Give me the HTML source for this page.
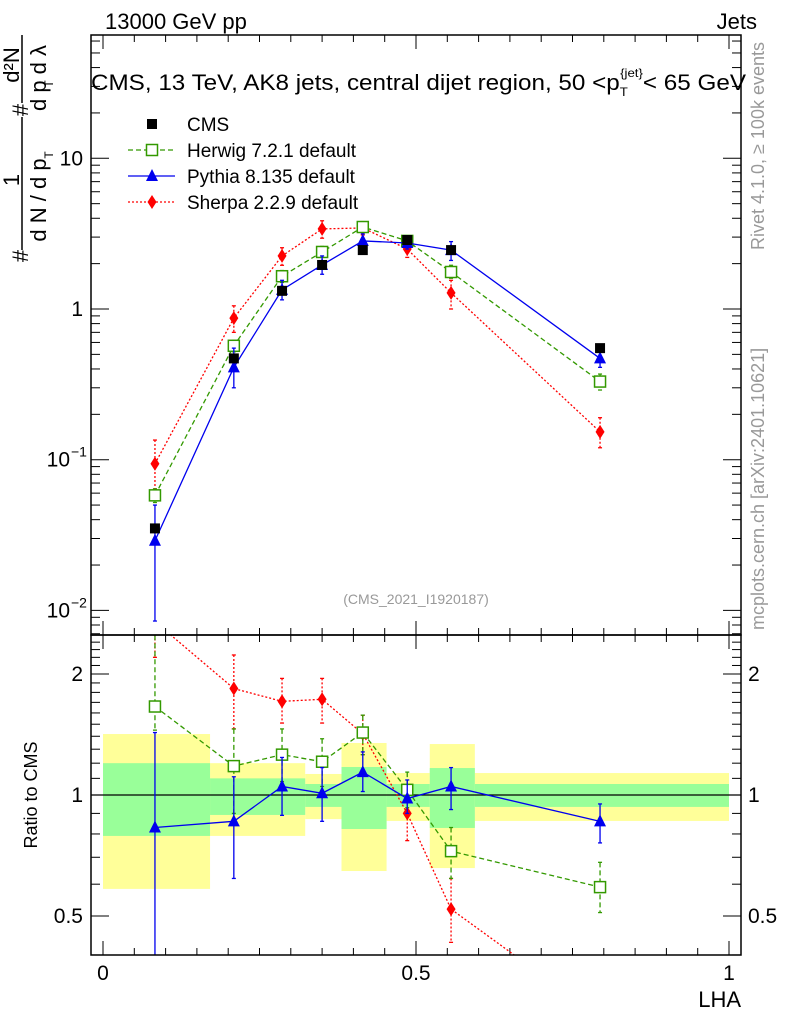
<!DOCTYPE html>
<html><head><meta charset="utf-8">
<style>
html,body{margin:0;padding:0;background:#fff;}
svg{display:block;font-family:"Liberation Sans",sans-serif;}
</style></head>
<body>
<svg id="chart" width="786" height="1024" viewBox="0 0 786 1024" xmlns="http://www.w3.org/2000/svg">
<defs>
<clipPath id="clipMain"><rect x="91" y="35" width="650" height="600"/></clipPath>
<clipPath id="clipRatio"><rect x="91" y="635" width="650" height="320"/></clipPath>
</defs>
<text x="105" y="29" font-size="22">13000 GeV pp</text>
<text x="757" y="29" font-size="22" text-anchor="end">Jets</text>
<g font-size="22">
<line x1="22" y1="35" x2="22" y2="103" stroke="#000" stroke-width="1.5"/>
<line x1="22" y1="117" x2="22" y2="250" stroke="#000" stroke-width="1.5"/>
<text transform="translate(19,65) rotate(-90)" text-anchor="middle">d²N</text>
<text transform="translate(46,78) rotate(-90)" text-anchor="middle">d p  d λ</text>
<text transform="translate(53,84) rotate(-90)" font-size="12" text-anchor="middle">T</text>
<text transform="translate(28,110) rotate(-90)" text-anchor="middle">#</text>
<text transform="translate(19,180) rotate(-90)" text-anchor="middle">1</text>
<text transform="translate(46,200) rotate(-90)" text-anchor="middle">d N / d p </text>
<text transform="translate(53,155) rotate(-90)" font-size="12" text-anchor="middle">T</text>
<text transform="translate(28,256) rotate(-90)" text-anchor="middle">#</text>
</g>
<text transform="translate(37,795) rotate(-90)" font-size="18" text-anchor="middle">Ratio to CMS</text>
<text x="741" y="1007" font-size="22" text-anchor="end">LHA</text>
<text transform="translate(764,250) rotate(-90)" font-size="18" fill="#999">Rivet 4.1.0, ≥ 100k events</text>
<text transform="translate(764,630) rotate(-90)" font-size="18" fill="#999">mcplots.cern.ch [arXiv:2401.10621]</text>
<text x="416" y="604" font-size="14" fill="#999" text-anchor="middle">(CMS_2021_I1920187)</text>
<g id="ticks"></g>
<g id="bands" clip-path="url(#clipRatio)"></g>
<line x1="91" x2="741" y1="795" y2="795" stroke="#000" stroke-width="1.2"/>
<g id="mainMarks" clip-path="url(#clipMain)"></g>
<g id="ratioMarks" clip-path="url(#clipRatio)"></g>
<rect x="91" y="35" width="650" height="600" fill="none" stroke="#000" stroke-width="1.5"/>
<rect x="91" y="635" width="650" height="320" fill="none" stroke="#000" stroke-width="1.5"/>
<text x="91" y="90" font-size="22" textLength="655" lengthAdjust="spacingAndGlyphs">CMS, 13 TeV, AK8 jets, central dijet region, 50 &lt;p<tspan font-size="12" dy="6">T</tspan><tspan font-size="12" dy="-19" dx="-7">{jet}</tspan><tspan dy="13">&lt; 65 GeV</tspan></text>
<g id="legend" font-size="19"></g>
</svg>
<script>
const xs = [0.083, 0.209, 0.286, 0.35, 0.415, 0.486, 0.556, 0.794];
const cms = [0.035, 0.47, 1.32, 1.96, 2.46, 2.87, 2.46, 0.55];
const herwig = [0.058, 0.57, 1.65, 2.39, 3.5, 2.83, 1.76, 0.33];
const herwigLo = [0.052, 0.52, 1.5, 2.2, 3.3, 2.7, 1.6, 0.29];
const herwigHi = [0.064, 0.62, 1.8, 2.6, 3.7, 2.95, 1.95, 0.37];
const pythia = [0.029, 0.41, 1.34, 1.96, 2.83, 2.74, 2.46, 0.47];
const pythiaLo = [0.0085, 0.3, 1.15, 1.7, 2.5, 2.5, 2.1, 0.41];
const pythiaHi = [0.05, 0.55, 1.55, 2.25, 3.15, 3.0, 2.8, 0.53];
const sherpa = [0.094, 0.87, 2.25, 3.4, 3.45, 2.5, 1.28, 0.153];
const sherpaLo = [0.064, 0.7, 1.95, 2.95, 3.1, 2.2, 1.0, 0.12];
const sherpaHi = [0.135, 1.05, 2.55, 3.85, 3.8, 2.8, 1.55, 0.19];

const rHerwig = [1.66, 1.18, 1.26, 1.21, 1.43, 1.03, 0.725, 0.59];
const rHerwigLo = [1.45, 0.9, 1.08, 1.05, 1.26, 0.93, 0.62, 0.51];
const rHerwigHi = [3.0, 1.46, 1.46, 1.38, 1.58, 1.14, 0.83, 0.68];
const rPythia = [0.83, 0.86, 1.05, 1.01, 1.14, 0.98, 1.05, 0.86];
const rPythiaLo = [0.3, 0.62, 0.89, 0.86, 1.02, 0.9, 0.92, 0.76];
const rPythiaHi = [1.43, 1.11, 1.24, 1.17, 1.28, 1.09, 1.17, 0.95];
const rSherpa = [2.7, 1.84, 1.71, 1.73, 1.42, 0.9, 0.52, 0.28];
const rSherpaLo = [2.2, 1.46, 1.51, 1.51, 1.26, 0.77, 0.43, 0.22];
const rSherpaHi = [3.3, 2.23, 1.95, 1.95, 1.58, 0.98, 0.62, 0.34];

const bandEdges = [0, 0.171, 0.323, 0.381, 0.453, 0.522, 0.594, 1.0];
const yellowLo = [0.584, 0.791, 0.871, 0.647, 0.862, 0.658, 0.862];
const yellowHi = [1.418, 1.20, 1.128, 1.347, 1.134, 1.339, 1.134];
const greenLo = [0.791, 0.892, 0.934, 0.823, 0.934, 0.828, 0.934];
const greenHi = [1.20, 1.10, 1.065, 1.174, 1.065, 1.167, 1.065];

const NS = "http://www.w3.org/2000/svg";
function X(v){ return 103 + 626*v; }
function Y(v){ return 309 - 150.7*Math.log10(v); }
function R(v){ return 795 - 402*Math.log10(v); }
function mk(tag, attrs, parent){
  const e = document.createElementNS(NS, tag);
  for (const k in attrs) e.setAttribute(k, attrs[k]);
  parent.appendChild(e); return e;
}
const ticks = document.getElementById('ticks');
const bands = document.getElementById('bands');
const mainG = document.getElementById('mainMarks');
const ratioG = document.getElementById('ratioMarks');
const legend = document.getElementById('legend');

for (let i=0;i<=20;i++){
  const v=i*0.05, x=X(v), major=(i%10===0);
  const L = major?14:7;
  [[635,-1],[35,1],[955,-1],[635,1]].forEach(([y,d])=>{
    const t = mk('line',{x1:x,x2:x,y1:y,y2:y+d*L,stroke:'#000','stroke-width':1},ticks);
    
    
  });
  if (major){
    const lbl = mk('text',{x:x,y:980,'font-size':21,'text-anchor':'middle'},ticks);
    lbl.textContent = (v===0?'0':v===1?'1':'0.5');
    
    
  }
}
for (let d=-3; d<=1; d++){
  for (let m=1;m<=9;m++){
    const v=m*Math.pow(10,d), y=Y(v);
    if (y<35||y>635) continue;
    const L = m===1?18:9;
    const t1 = mk('line',{x1:91,x2:91+L,y1:y,y2:y,stroke:'#000','stroke-width':1},ticks);
    
    
    const t2 = mk('line',{x1:741,x2:741-L,y1:y,y2:y,stroke:'#000','stroke-width':1},ticks);
    
    
  }
}
const yLabels = [['10',10],['1',1]];
yLabels.forEach(([s,v])=>{
  const t=mk('text',{x:83,y:Y(v)+7,'font-size':21,'text-anchor':'end'},ticks);
  t.textContent=s;
  
  
});
[[-1,0.1],[-2,0.01]].forEach(([e,v])=>{
  const t=mk('text',{x:70,y:Y(v)+7,'font-size':21,'text-anchor':'end'},ticks);
  t.textContent='10';
  
  
  const s=mk('text',{x:71,y:Y(v)-3,'font-size':14},ticks);
  s.textContent='−'+(-e);
  
  
});
const rTicks=[0.4,0.5,0.6,0.7,0.8,0.9,1,1.1,1.2,1.3,1.4,1.5,1.6,1.7,1.8,1.9,2,2.1,2.2,2.3,2.4,2.5];
rTicks.forEach(v=>{
  const y=R(v); if(y<635||y>955) return;
  const major=(v===0.5||v===1||v===2);
  const L=major?18:9;
  const a=mk('line',{x1:91,x2:91+L,y1:y,y2:y,stroke:'#000','stroke-width':1},ticks);
  
  
  const b=mk('line',{x1:741,x2:741-L,y1:y,y2:y,stroke:'#000','stroke-width':1},ticks);
  
  
  if(major){
    const s = v===0.5?'0.5':String(v);
    const l=mk('text',{x:83,y:y+7,'font-size':21,'text-anchor':'end'},ticks);
    l.textContent=s;
    
    
    const r=mk('text',{x:748,y:y+7,'font-size':21},ticks);
    r.textContent=s;
    
    
  }
});
for(let i=0;i<bandEdges.length-1;i++){
  const x0=X(bandEdges[i]), x1=X(bandEdges[i+1]);
  const yb=mk('rect',{x:x0,y:R(yellowHi[i]),width:x1-x0,height:R(yellowLo[i])-R(yellowHi[i]),fill:'#ffff99'},bands);
  
  
}
for(let i=0;i<bandEdges.length-1;i++){
  const x0=X(bandEdges[i]), x1=X(bandEdges[i+1]);
  const gb=mk('rect',{x:x0,y:R(greenHi[i]),width:x1-x0,height:R(greenLo[i])-R(greenHi[i]),fill:'#99ff99'},bands);
  
  
}

function marker(type,x,y,color,g){
  let e;
  if(type==='sq') e=mk('rect',{x:x-5.5,y:y-5.5,width:11,height:11,fill:'#fff',stroke:color,'stroke-width':1.5},g);
  else if(type==='fsq') e=mk('rect',{x:x-5,y:y-5,width:10,height:10,fill:color},g);
  else if(type==='tri') e=mk('polygon',{points:`${x},${y-7} ${x+6},${y+5} ${x-6},${y+5}`,fill:color},g);
  else e=mk('polygon',{points:`${x},${y-7} ${x+4.5},${y} ${x},${y+7} ${x-4.5},${y}`,fill:color},g);
  return e;
}
function series(name,vals,lo,hi,yf,color,dash,type,g){
  const pts=vals.map((v,i)=>X(xs[i])+','+yf(v)).join(' ');
  const pl=mk('polyline',{points:pts,fill:'none',stroke:color,'stroke-width':1.3,'stroke-dasharray':dash},g);
  
  
  vals.forEach((v,i)=>{
    const x=X(xs[i]);
    const eb=mk('line',{x1:x,x2:x,y1:yf(hi[i]),y2:yf(lo[i]),stroke:color,'stroke-width':1.3,'stroke-dasharray':dash},g);
    
    
    [hi[i],lo[i]].forEach(c=>{
      const cap=mk('line',{x1:x-2,x2:x+2,y1:yf(c),y2:yf(c),stroke:color,'stroke-width':1.3},g);
      
      
    });
    const m=marker(type,x,yf(v),color,g);
    
    
  });
}
const HC='#339900', PC='#0000ee', SC='#ff0000';
series('sherpa',sherpa,sherpaLo,sherpaHi,Y,SC,'2,2','dia',mainG);
series('herwig',herwig,herwigLo,herwigHi,Y,HC,'5,3','sq',mainG);
series('pythia',pythia,pythiaLo,pythiaHi,Y,PC,'','tri',mainG);
cms.forEach((v,i)=>{
  const m=marker('fsq',X(xs[i]),Y(v),'#000',mainG);
  
  
});
series('sherpa-ratio',rSherpa,rSherpaLo,rSherpaHi,R,SC,'2,2','dia',ratioG);
series('herwig-ratio',rHerwig,rHerwigLo,rHerwigHi,R,HC,'5,3','sq',ratioG);
series('pythia-ratio',rPythia,rPythiaLo,rPythiaHi,R,PC,'','tri',ratioG);

const entries=[['CMS','#000','','fsq',false],['Herwig 7.2.1 default',HC,'5,3','sq',true],['Pythia 8.135 default',PC,'','tri',true],['Sherpa 2.2.9 default',SC,'2,2','dia',true]];
entries.forEach((e,i)=>{
  const y=124+i*26;
  const g=mk('g',{},legend);
  
  
  if(e[4]) mk('line',{x1:128,x2:175,y1:y,y2:y,stroke:e[1],'stroke-width':1.3,'stroke-dasharray':e[2]},g);
  marker(e[3],152,y,e[1],g);
  const t=mk('text',{x:187,y:y+7,'font-size':19},g);
  t.textContent=e[0];
});
</script>
</body></html>
